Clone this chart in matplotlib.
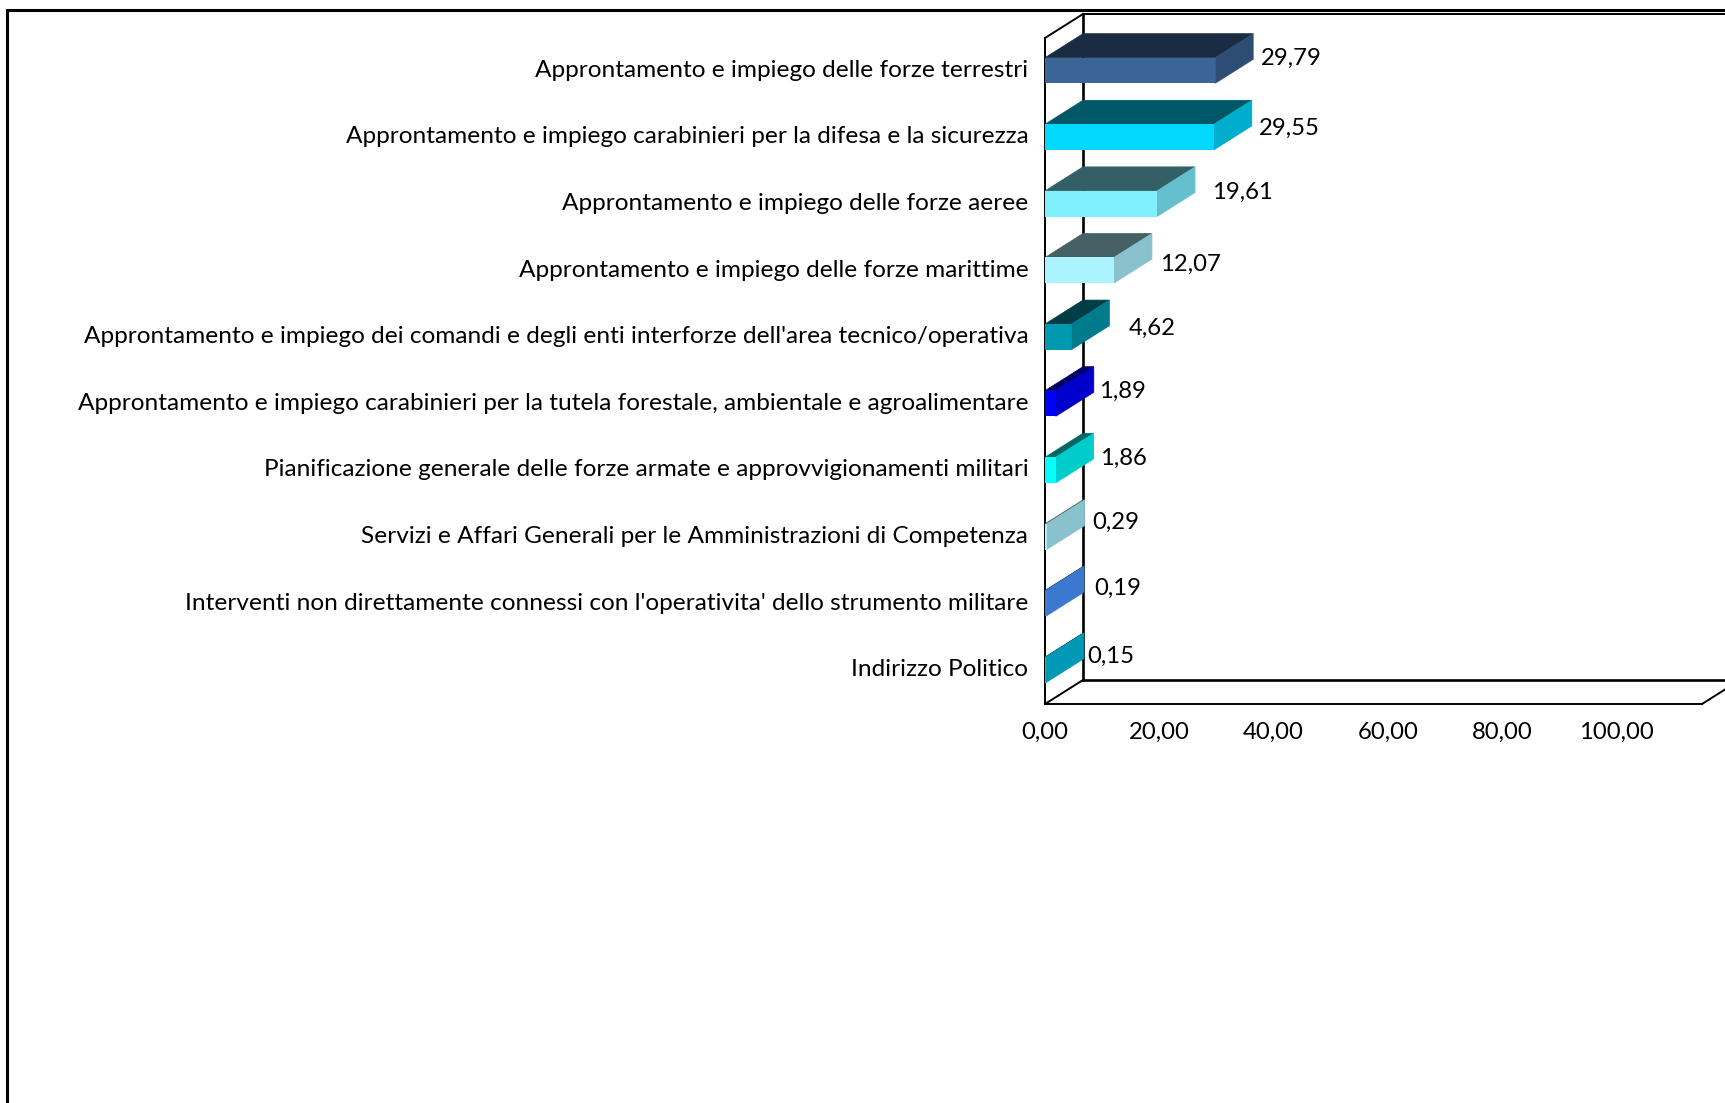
import matplotlib
matplotlib.use('Agg')
import matplotlib.pyplot as plt
from matplotlib.patches import Polygon, Rectangle
from matplotlib.transforms import ScaledTranslation

categories = [
    "Approntamento e impiego delle forze terrestri",
    "Approntamento e impiego carabinieri per la difesa e la sicurezza",
    "Approntamento e impiego delle forze aeree",
    "Approntamento e impiego delle forze marittime",
    "Approntamento e impiego dei comandi e degli enti interforze dell'area tecnico/operativa",
    "Approntamento e impiego carabinieri per la tutela forestale, ambientale e agroalimentare",
    "Pianificazione generale delle forze armate e approvvigionamenti militari",
    "Servizi e Affari Generali per le Amministrazioni di Competenza",
    "Interventi non direttamente connessi con l'operativita' dello strumento militare",
    "Indirizzo Politico",
]
values = [29.79, 29.55, 19.61, 12.07, 4.62, 1.89, 1.86, 0.29, 0.19, 0.15]
x_ticks = [0, 20, 40, 60, 80, 100]

front_colors = ['#3B6497', '#00D8FF', '#80F0FF', '#ABF3FF', '#0099B0',
                '#0000FF', '#00FFFF', '#ABF3FF', '#3B78D0', '#00C0D0']
side_colors = ['#2D4D75', '#00ADCC', '#66BFCC', '#89C2CC', '#007A8D',
               '#0000CC', '#00CCCC', '#89C2CC', '#3B78D0', '#0099B5']
top_colors = ['#1A2B42', '#005766', '#336066', '#456166', '#003D46',
              '#000066', '#006666', '#456166', '#1E3F70', '#005566']

# spostamento a mano delle etichette (pixel rispetto alla fine della barra)
label_dx = [76, 75, 85, 77, 81, 67, 68, 69, 72, 65]
label_dy = [-13, -10, -12, -7, -9, -13, -13, -15, -16, -14]

W, H = 1725, 1103
plt.rcParams['font.family'] = ['Lato', 'DejaVu Sans']
fig = plt.figure(figsize=(W / 100, H / 100), dpi=100, facecolor='white')

# cornice esterna, esce dal bordo a destra e in basso
fig.add_artist(Rectangle((7 / W, -0.1), 1.2, 1.1 - 10.5 / H, transform=fig.transFigure,
                         fill=False, edgecolor='black', linewidth=2.2))

ax = fig.add_axes([1045 / W, 1 - 704 / H, 657 / W, 666 / H])
ax.patch.set_visible(False)
ax.set_xlim(0, 115)
ax.set_ylim(10, 0)
for s in ax.spines.values():
    s.set_visible(False)

# profondita' del finto 3D in unita' dei dati
dep_x = 38 / (657 / 115)
dep_y = 24 / 66.6
bar_h = 0.385

# pareti
wall = dict(color='black', clip_on=False, solid_capstyle='projecting', zorder=1)
ax.plot([dep_x, dep_x], [-dep_y, 10 - dep_y], lw=1.9, **wall)
ax.plot([dep_x, 115 + dep_x], [10 - dep_y, 10 - dep_y], lw=1.9, **wall)
ax.plot([dep_x, 115 + dep_x], [-dep_y, -dep_y], lw=1.4, **wall)
ax.plot([0, dep_x], [0, -dep_y], lw=1.4, **wall)
ax.plot([0, dep_x], [10, 10 - dep_y], lw=1.4, **wall)
ax.plot([0, 115], [10, 10], lw=1.4, **wall)
ax.plot([115, 115 + dep_x], [10, 10 - dep_y], lw=1.4, **wall)
ax.plot([0, 0], [0, 10], lw=1.4, **wall)

ypos = [i + 0.5 for i in range(len(values))]
bar_y = [y - 0.012 for y in ypos]
for i, v in enumerate(values):
    y0 = bar_y[i] - bar_h / 2
    y1 = bar_y[i] + bar_h / 2
    top = [(0, y0), (v, y0), (v + dep_x, y0 - dep_y), (dep_x, y0 - dep_y)]
    side = [(v, y0), (v + dep_x, y0 - dep_y), (v + dep_x, y1 - dep_y), (v, y1)]
    ax.add_patch(Polygon(top, closed=True, facecolor=top_colors[i], edgecolor=top_colors[i],
                         linewidth=0.5, zorder=2, clip_on=False))
    ax.add_patch(Polygon(side, closed=True, facecolor=side_colors[i], edgecolor=side_colors[i],
                         linewidth=0.5, zorder=2, clip_on=False))
    ax.annotate(f'{v:.2f}'.replace('.', ','), (v, ypos[i]),
                xytext=(label_dx[i] * 0.72, -label_dy[i] * 0.72), textcoords='offset points',
                ha='center', va='center', fontsize=17.2, color='black', zorder=4)

ax.barh(bar_y, values, height=bar_h, color=front_colors, linewidth=0, zorder=3)

ax.set_yticks(ypos)
ax.set_yticklabels(categories, fontsize=17.6)
ax.set_xticks(x_ticks)
ax.set_xticklabels([f'{t:.2f}'.replace('.', ',') for t in x_ticks], fontsize=17.2)
ax.tick_params(axis='y', length=0, pad=12)
ax.tick_params(axis='x', length=0, pad=12.5)

# le etichette delle categorie stanno un po' piu' in alto
up = ScaledTranslation(0, 3 / 100, fig.dpi_scale_trans)
for lab in ax.get_yticklabels():
    lab.set_transform(lab.get_transform() + up)

plt.savefig('out.png', dpi=100)
